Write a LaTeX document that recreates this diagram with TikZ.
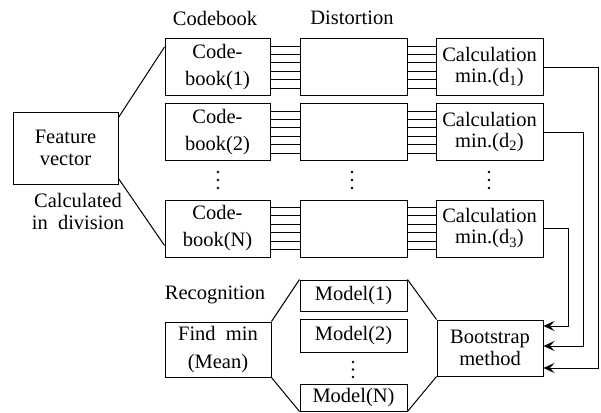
\documentclass[tikz,border=0pt]{standalone}
\usepackage{fontspec}
\setmainfont{Liberation Serif}
\usetikzlibrary{arrows.meta,calc}
\begin{document}
\begin{tikzpicture}[x=1pt,y=-1pt,
  box/.style={draw,line width=1pt,inner sep=0pt,align=center},
  lbl/.style={inner sep=0pt,align=center},
  wire/.style={line width=0.9pt},
  arr/.style={line width=1pt,-{Stealth[length=11pt,width=10pt,inset=4.5pt]}},
  dot/.style={fill,circle,inner sep=0pt,minimum size=2.6pt},
  txt/.style={font=\fontsize{20.5}{#1}\selectfont}]
\useasboundingbox (0,0) rectangle (601,412);
% labels
\node[lbl,txt=22pt] (lcb) at (215,18) {Codebook};
\node[lbl,txt=22pt] (ldi) at (352,18) {Distortion};
\node[lbl,txt=22pt] (lre) at (215,295) {Recognition};
\node[lbl,txt=22pt] (lca) at (78,211) {Calculated\\in\ \ division};
% feature vector
\node[box,txt=22pt,minimum width=105pt,minimum height=72pt] (fv) at (65.5,148) {Feature\\vector};
% rows
\foreach \r/\y/\lab/\d in {1/67/1/1, 2/132/2/2, N/228.5/N/3}{
  \node[box,txt=27pt,minimum width=105pt,minimum height=57pt] (cb\r) at (217.5,\y) {Code-\\book(\lab)};
  \node[box,minimum width=107pt,minimum height=57pt] (di\r) at (353.5,\y) {};
  \node[box,txt=21pt,minimum width=107pt,minimum height=57pt] (ca\r) at (489.5,\y) {Calculation\\min.(d\textsubscript{\d})};
  \foreach \o in {-21,-12.6,-4.2,4.2,12.6,21}{
    \draw[wire] ([yshift=-\o pt]cb\r.east) -- ([yshift=-\o pt]di\r.west);
    \draw[wire] ([yshift=-\o pt]di\r.east) -- ([yshift=-\o pt]ca\r.west);
  }
}
% dots
\foreach \x in {218,352,489}{
  \foreach \yy in {172,180,188}{ \node[dot] at (\x,\yy) {}; }
}
\foreach \yy in {362,369.5,377}{ \node[dot] at (353,\yy) {}; }
% feature vector fan
\draw[line width=1pt] ([yshift=-6pt]fv.north east) -- ([yshift=-9pt]cb1.north west);
\draw[line width=1pt] ([yshift=6pt]fv.south east) -- ([yshift=12pt]cbN.south west);
% recognition part
\node[box,txt=28pt,minimum width=106pt,minimum height=55pt] (fm) at (218,349.5) {Find\ \ min\\(Mean)};
\node[box,txt=22pt,minimum width=107pt,minimum height=31pt] (m1) at (353.5,295.5) {Model(1)};
\node[box,txt=22pt,minimum width=107pt,minimum height=33pt] (m2) at (353.5,335.5) {Model(2)};
\node[box,txt=22pt,minimum width=107pt,minimum height=27pt] (mN) at (353.5,397.5) {Model(N)};
\node[box,txt=22pt,minimum width=106pt,minimum height=56pt] (bs) at (490,348) {Bootstrap\\method};
\draw[line width=1pt] (fm.north east) -- (m1.north west);
\draw[line width=1pt] (fm.south east) -- (mN.south west);
\draw[line width=1pt] (m1.north east) -- (bs.north west);
\draw[line width=1pt] (bs.south west) -- (mN.south east);
% feedback arrows
\coordinate (c1) at (598,67);
\coordinate (c2) at (583,132);
\coordinate (c3) at (568,228.5);
\draw[arr] (ca1.east) -- (c1) |- ([yshift=-20pt]bs.east);
\draw[arr] (ca2.east) -- (c2) |- ([yshift=2pt]bs.east);
\draw[arr] (caN.east) -- (c3) |- ([yshift=22pt]bs.east);
\end{tikzpicture}
\end{document}
